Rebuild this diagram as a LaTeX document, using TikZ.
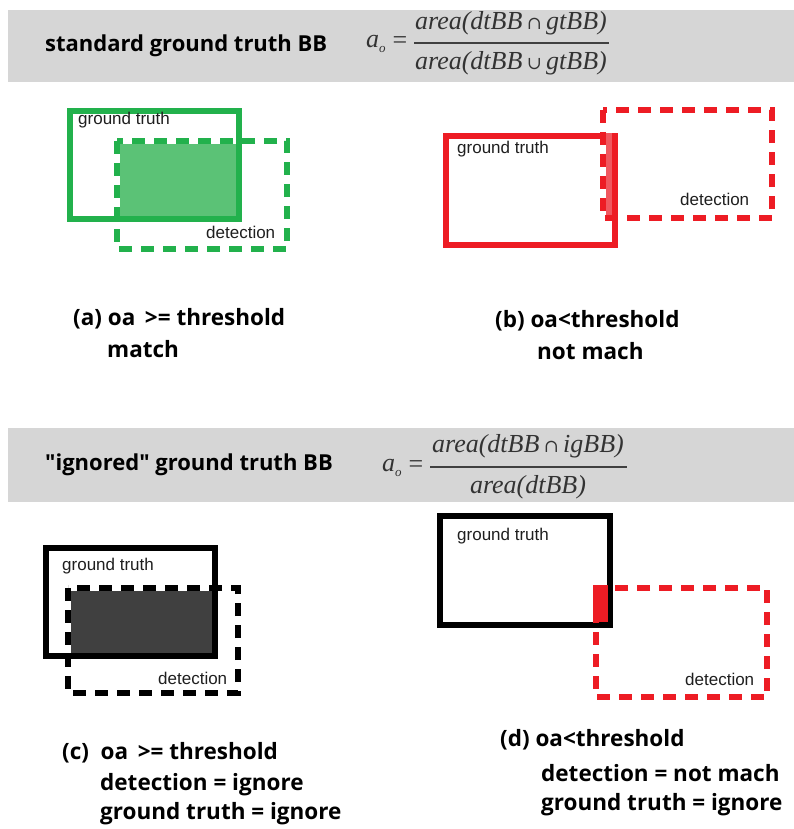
\documentclass[tikz,border=0pt]{standalone}
\usepackage{fontspec}
\setmainfont{Liberation Sans}
\newfontfamily\labelfont{Open Sans}
\newfontfamily\formulafont{Liberation Serif}
\newfontfamily\setopfont{DejaVu Serif}

\definecolor{gtgreen}{HTML}{22B14C}
\definecolor{fillgreen}{HTML}{5BC276}
\definecolor{gtred}{HTML}{ED1C24}
\definecolor{fillred}{HTML}{F0585F}
\definecolor{bandgray}{HTML}{D6D6D6}
\definecolor{darkfill}{HTML}{404040}

\tikzset{
  solidbox/.style={line width=6pt},
  dashbox/.style={line width=6pt, dash pattern=on 13pt off 9pt},
  boxtext/.style={font=\fontsize{17}{18}\selectfont, anchor=west, inner sep=0pt, text=black!88},
  caption/.style={font=\labelfont\bfseries\fontsize{22.5}{24}\selectfont, anchor=west, inner sep=0pt},
  headline/.style={font=\labelfont\bfseries\fontsize{22}{24}\selectfont, anchor=west, inner sep=0pt},
  ftext/.style={font=\formulafont\itshape\fontsize{26}{28}\selectfont, inner sep=0pt, text=black!80},
  fline/.style={line width=1.3pt, draw=black!75},
}

\newcommand{\ao}{a\raisebox{-0.35ex}{\fontsize{13}{14}\selectfont o}}
\newcommand{\capop}{{\upshape\setopfont\fontsize{18}{18}\selectfont ∩}}
\newcommand{\cupop}{{\upshape\setopfont\fontsize{18}{18}\selectfont ∪}}

\begin{document}
\begin{tikzpicture}[x=1pt,y=-1pt]
\useasboundingbox (0,0) rectangle (794,829);
\fill[white] (0,0) rectangle (794,829);

% ---------- standard ground truth ----------
\fill[bandgray] (8,10) rectangle (794,82);
\node[headline] (title1) at (45,46) {standard ground truth BB};
\node[ftext, anchor=west] (ao1) at (366,44) {\ao};
\node[ftext] (eq1) at (400,43) {\upshape =};
\coordinate (f1l) at (414,43);
\coordinate (f1r) at (609,43);
\draw[fline] (f1l) -- (f1r);
\node[ftext] (num1) at (511,23) {area(dtBB\,\capop\,gtBB)};
\node[ftext] (den1) at (511,63) {area(dtBB\,\cupop\,gtBB)};

% (a) match
\draw[solidbox, gtgreen] (70,111) rectangle (239,219);
\draw[dashbox, gtgreen] (117,141) rectangle (287,249);
\fill[fillgreen] (120,144) rectangle (236,216);
\node[boxtext] (gta) at (78,120) {ground truth};
\node[boxtext] (dta) at (206,232) {detection};
\node[caption] (capa1) at (73,319) {(a) oa \,>= threshold};
\node[caption] (capa2) at (107,349) {match};

% (b) no match
\draw[solidbox, gtred] (446,136) rectangle (615,245);
\draw[dashbox, gtred] (603,110) rectangle (772,218);
\fill[fillred] (606,133) rectangle (612,215);
\node[boxtext] (gtb) at (457,149) {ground truth};
\node[boxtext] (dtb) at (680,199) {detection};
\node[caption] (capb1) at (495,321) {(b) oa<threshold};
\node[caption] (capb2) at (537,351) {not mach};

% ---------- ignored ground truth ----------
\fill[bandgray] (8,428) rectangle (794,502);
\node[headline] (title2) at (45,465) {"ignored" ground truth BB};
\node[ftext, anchor=west] (ao2) at (382,468) {\ao};
\node[ftext] (eq2) at (416,467) {\upshape =};
\coordinate (f2l) at (430,467);
\coordinate (f2r) at (627,467);
\draw[fline] (f2l) -- (f2r);
\node[ftext] (num2) at (528,446) {area(dtBB\,\capop\,igBB)};
\node[ftext] (den2) at (528,487) {area(dtBB)};

% (c) ignored, overlapping
\draw[solidbox, black] (46,548) rectangle (215,656);
\draw[dashbox, black] (68,588) rectangle (238,693);
\fill[darkfill] (71,591) rectangle (212,653);
\node[boxtext] (gtc) at (62,566) {ground truth};
\node[boxtext] (dtc) at (158,678) {detection};
\node[caption] (capc1) at (62,753) {(c) \ oa \,>= threshold};
\node[caption] (capc2) at (100,785) {detection = ignore};
\node[caption] (capc3) at (100,814) {ground truth = ignore};

% (d) ignored, barely touching
\draw[solidbox, black] (440,516) rectangle (610,625);
\draw[dashbox, gtred] (596,588) rectangle (767,697);
\fill[gtred] (593,585) rectangle (608,622);
\node[boxtext] (gtd) at (457,536) {ground truth};
\node[boxtext] (dtd) at (685,679) {detection};
\node[caption] (capd1) at (500,740) {(d) oa<threshold};
\node[caption] (capd2) at (541,773) {detection = not mach};
\node[caption] (capd3) at (541,805) {ground truth = ignore};
\end{tikzpicture}
\end{document}
